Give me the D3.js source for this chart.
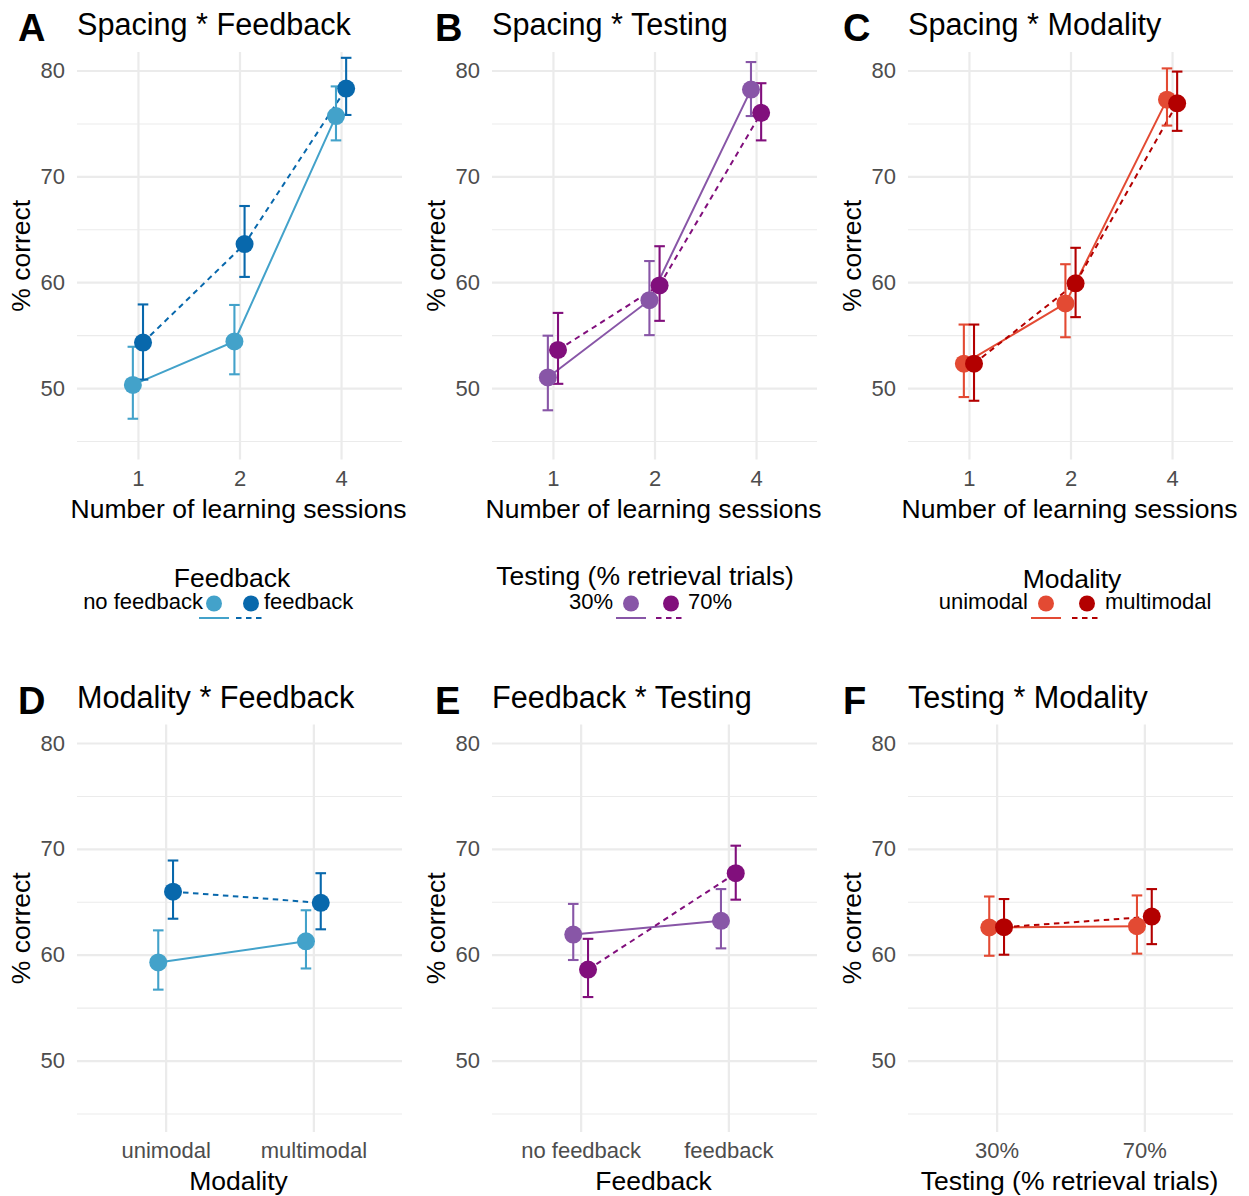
<!DOCTYPE html>
<html><head><meta charset="utf-8">
<script src="https://cdn.jsdelivr.net/npm/d3@7"></script>
<style>body{margin:0;background:#fff}</style>
</head><body>
<svg id="c" width="1249" height="1196" xmlns="http://www.w3.org/2000/svg"></svg>
<script>
// ---------- data ----------
const sessions = ["1", "2", "4"];
const modalityLevels = ["unimodal", "multimodal"];
const feedbackLevels = ["no feedback", "feedback"];
const testingLevels = ["30%", "70%"];
const yTicks = [50, 60, 70, 80];
const yMinor = [45, 55, 65, 75];
const yLimits = [45, 80];

// A: Spacing * Feedback
const A_noFb_mean = [50.3, 54.4, 75.7], A_noFb_lo = [47.1, 51.3, 73.4], A_noFb_hi = [53.9, 57.85, 78.5];
const A_fb_mean = [54.3, 63.6, 78.3], A_fb_lo = [50.8, 60.5, 75.8], A_fb_hi = [57.9, 67.2, 81.2];
// B: Spacing * Testing
const B_t30_mean = [51.0, 58.3, 78.2], B_t30_lo = [47.9, 55.0, 75.7], B_t30_hi = [54.95, 62.0, 80.8];
const B_t70_mean = [53.6, 59.7, 76.0], B_t70_lo = [50.4, 56.35, 73.4], B_t70_hi = [57.1, 63.4, 78.8];
// C: Spacing * Modality
const C_uni_mean = [52.3, 58.0, 77.25], C_uni_lo = [49.15, 54.8, 74.8], C_uni_hi = [56.0, 61.7, 80.2];
const C_multi_mean = [52.3, 59.9, 76.9], C_multi_lo = [48.8, 56.7, 74.3], C_multi_hi = [56.0, 63.25, 79.9];
// D: Modality * Feedback
const D_noFb_mean = [59.27, 61.27], D_noFb_lo = [56.7, 58.7], D_noFb_hi = [62.3, 64.2];
const D_fb_mean = [65.96, 64.9], D_fb_lo = [63.4, 62.4], D_fb_hi = [68.9, 67.7];
// E: Feedback * Testing
const E_t30_mean = [61.9, 63.2], E_t30_lo = [59.5, 60.6], E_t30_hi = [64.8, 66.2];
const E_t70_mean = [58.6, 67.7], E_t70_lo = [56.0, 65.2], E_t70_hi = [61.5, 70.3];
// F: Testing * Modality
const F_uni_mean = [62.57, 62.7], F_uni_lo = [59.9, 60.1], F_uni_hi = [65.5, 65.6];
const F_multi_mean = [62.6, 63.6], F_multi_lo = [60.0, 61.0], F_multi_hi = [65.26, 66.2];

// ---------- styles ----------
const blueL = "#43A2CA", blueD = "#0868AC";
const purpL = "#8856A7", purpD = "#810F7C";
const redL = "#E34A33", redD = "#B30000";
const FONT = "'Liberation Sans', Arial, Helvetica, sans-serif";

const colLeft = [77, 492, 908];
const letterX = [18, 435, 843];
const rowTop = [52, 724.5];
const PW = 325, PH = 407.5;

const mk = (mean, lo, hi, color, dashed) => ({mean, lo, hi, color, dashed});

const panels = [
  {letter: "A", title: "Spacing * Feedback", col: 0, row: 0, cats: sessions, xTitle: "Number of learning sessions",
   series: [mk(A_noFb_mean, A_noFb_lo, A_noFb_hi, blueL, false), mk(A_fb_mean, A_fb_lo, A_fb_hi, blueD, true)],
   legend: {title: "Feedback", labels: feedbackLevels, tx: 232, ty: 587, k1: 214, k2: 251, g1: 11, g2: 13}},
  {letter: "B", title: "Spacing * Testing", col: 1, row: 0, cats: sessions, xTitle: "Number of learning sessions",
   series: [mk(B_t30_mean, B_t30_lo, B_t30_hi, purpL, false), mk(B_t70_mean, B_t70_lo, B_t70_hi, purpD, true)],
   legend: {title: "Testing (% retrieval trials)", labels: testingLevels, tx: 645, ty: 585, k1: 631, k2: 671, g1: 18, g2: 17}},
  {letter: "C", title: "Spacing * Modality", col: 2, row: 0, cats: sessions, xTitle: "Number of learning sessions",
   series: [mk(C_uni_mean, C_uni_lo, C_uni_hi, redL, false), mk(C_multi_mean, C_multi_lo, C_multi_hi, redD, true)],
   legend: {title: "Modality", labels: modalityLevels, tx: 1072, ty: 588, k1: 1046, k2: 1087, g1: 18, g2: 18}},
  {letter: "D", title: "Modality * Feedback", col: 0, row: 1, cats: modalityLevels, xTitle: "Modality",
   series: [mk(D_noFb_mean, D_noFb_lo, D_noFb_hi, blueL, false), mk(D_fb_mean, D_fb_lo, D_fb_hi, blueD, true)]},
  {letter: "E", title: "Feedback * Testing", col: 1, row: 1, cats: feedbackLevels, xTitle: "Feedback",
   series: [mk(E_t30_mean, E_t30_lo, E_t30_hi, purpL, false), mk(E_t70_mean, E_t70_lo, E_t70_hi, purpD, true)]},
  {letter: "F", title: "Testing * Modality", col: 2, row: 1, cats: testingLevels, xTitle: "Testing (% retrieval trials)",
   series: [mk(F_uni_mean, F_uni_lo, F_uni_hi, redL, false), mk(F_multi_mean, F_multi_lo, F_multi_hi, redD, true)]}
];

const svg = d3.select("#c");
svg.append("rect").attr("width", 1249).attr("height", 1196).attr("fill", "#fff");

const pad = (yLimits[1] - yLimits[0]) * 0.05;

panels.forEach(p => {
  const left = colLeft[p.col], top = rowTop[p.row];
  const g = svg.append("g").attr("transform", `translate(${left},${top})`);
  const x = d3.scalePoint().domain(p.cats).range([0, PW]).padding(0.6);
  const y = d3.scaleLinear().domain([yLimits[0] - pad, yLimits[1] + pad]).range([PH, 0]);
  const step = x.step();
  const dodge = [-0.05 * step, 0.05 * step];

  // minor grid
  g.append("g").call(d3.axisLeft(y).tickValues(yMinor).tickSize(-PW).tickFormat(""))
    .call(a => a.select(".domain").remove())
    .selectAll("line").attr("stroke", "#EBEBEB").attr("stroke-width", 1.1);
  // major grid horizontal
  g.append("g").call(d3.axisLeft(y).tickValues(yTicks).tickSize(-PW).tickFormat(""))
    .call(a => a.select(".domain").remove())
    .selectAll("line").attr("stroke", "#EBEBEB").attr("stroke-width", 2.2);
  // major grid vertical
  g.append("g").attr("transform", `translate(0,${PH})`)
    .call(d3.axisBottom(x).tickSize(PH).tickFormat(""))
    .call(a => a.select(".domain").remove())
    .selectAll("line").attr("stroke", "#EBEBEB").attr("stroke-width", 2.2).attr("y2", -PH);

  // y axis labels
  const ya = g.append("g").call(d3.axisLeft(y).tickValues(yTicks).tickSize(0).tickPadding(12));
  ya.select(".domain").remove();
  ya.selectAll("text").attr("font-family", FONT).attr("font-size", 22).attr("fill", "#4D4D4D");

  // x axis labels
  const xa = g.append("g").attr("transform", `translate(0,${PH})`).call(d3.axisBottom(x).tickSize(0));
  xa.select(".domain").remove();
  xa.selectAll("text").attr("font-family", FONT).attr("font-size", 22).attr("fill", "#4D4D4D")
    .attr("y", 26).attr("dy", null);

  // axis titles
  g.append("text").attr("x", PW / 2 - 1).attr("y", PH + 58).attr("text-anchor", "middle")
    .attr("font-family", FONT).attr("font-size", 26.5).attr("fill", "#000").text(p.xTitle);
  g.append("text").attr("transform", `translate(-47,${PH / 2}) rotate(-90)`).attr("text-anchor", "middle")
    .attr("font-family", FONT).attr("font-size", 26.5).attr("fill", "#000").text("% correct");

  // titles
  g.append("text").attr("x", 0).attr("y", -17).attr("font-family", FONT).attr("font-size", 30.6)
    .attr("fill", "#000").text(p.title);
  svg.append("text").attr("x", letterX[p.col]).attr("y", top - 11).attr("font-family", FONT).attr("font-size", 38)
    .attr("font-weight", "bold").attr("fill", "#000").text(p.letter);

  // lines
  p.series.forEach((s, si) => {
    const line = d3.line().x((d, i) => x(p.cats[i]) + dodge[si]).y(d => y(d));
    g.append("path").attr("d", line(s.mean)).attr("fill", "none").attr("stroke", s.color)
      .attr("stroke-width", 2).attr("stroke-dasharray", s.dashed ? "5.5,4.5" : null);
  });
  // error bars
  p.series.forEach((s, si) => {
    const eb = g.append("g").attr("stroke", s.color).attr("stroke-width", 2.1).attr("fill", "none");
    s.mean.forEach((m, i) => {
      const cx = x(p.cats[i]) + dodge[si];
      eb.append("line").attr("x1", cx).attr("x2", cx).attr("y1", y(s.lo[i])).attr("y2", y(s.hi[i]));
      eb.append("line").attr("x1", cx - 5.3).attr("x2", cx + 5.3).attr("y1", y(s.lo[i])).attr("y2", y(s.lo[i]));
      eb.append("line").attr("x1", cx - 5.3).attr("x2", cx + 5.3).attr("y1", y(s.hi[i])).attr("y2", y(s.hi[i]));
    });
  });
  // points
  p.series.forEach((s, si) => {
    g.selectAll(null).data(s.mean).enter().append("circle")
      .attr("cx", (d, i) => x(p.cats[i]) + dodge[si]).attr("cy", d => y(d))
      .attr("r", 9).attr("fill", s.color);
  });

  // legend
  if (p.legend) {
    const L = p.legend;
    svg.append("text").attr("x", L.tx).attr("y", L.ty).attr("text-anchor", "middle")
      .attr("font-family", FONT).attr("font-size", 26.5).attr("fill", "#000").text(L.title);
    const keys = [L.k1, L.k2];
    p.series.forEach((s, si) => {
      const kx = keys[si];
      svg.append("circle").attr("cx", kx).attr("cy", 603.5).attr("r", 8).attr("fill", s.color);
      svg.append("line").attr("x1", kx - 15).attr("x2", kx + 15).attr("y1", 618).attr("y2", 618)
        .attr("stroke", s.color).attr("stroke-width", 2).attr("stroke-dasharray", s.dashed ? "5.5,4.5" : null);
    });
    svg.append("text").attr("x", L.k1 - L.g1).attr("y", 609).attr("text-anchor", "end")
      .attr("font-family", FONT).attr("font-size", 22).attr("fill", "#000").text(L.labels[0]);
    svg.append("text").attr("x", L.k2 + L.g2).attr("y", 609).attr("text-anchor", "start")
      .attr("font-family", FONT).attr("font-size", 22).attr("fill", "#000").text(L.labels[1]);
  }
});
</script>
</body></html>
